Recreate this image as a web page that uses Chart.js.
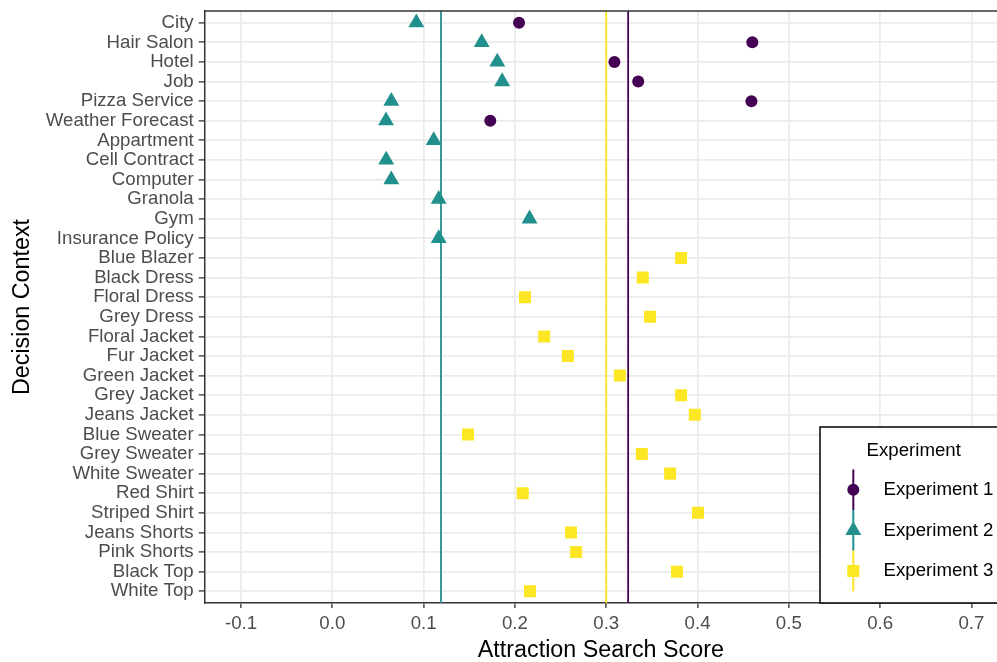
<!DOCTYPE html>
<html>
<head>
<meta charset="utf-8">
<script src="https://cdn.jsdelivr.net/npm/chart.js@4.4.1/dist/chart.umd.min.js"></script>
<style>
  html, body { margin: 0; padding: 0; background: #ffffff; }
  #wrap { width: 997px; height: 662px; }
</style>
</head>
<body>
<div id="wrap"><canvas id="c" width="997" height="662"></canvas></div>
<script>
// ---- Data ----
const categories = [
  "City", "Hair Salon", "Hotel", "Job", "Pizza Service", "Weather Forecast",
  "Appartment", "Cell Contract", "Computer", "Granola", "Gym", "Insurance Policy",
  "Blue Blazer", "Black Dress", "Floral Dress", "Grey Dress", "Floral Jacket", "Fur Jacket",
  "Green Jacket", "Grey Jacket", "Jeans Jacket", "Blue Sweater", "Grey Sweater", "White Sweater",
  "Red Shirt", "Striped Shirt", "Jeans Shorts", "Pink Shorts", "Black Top", "White Top"
];
const experimentNames = ["Experiment 1", "Experiment 2", "Experiment 3"];
const exp1Scores = [0.2045, 0.460, 0.309, 0.335, 0.459, 0.173,
  null, null, null, null, null, null,
  null, null, null, null, null, null, null, null, null, null, null, null, null, null, null, null, null, null];
const exp2Scores = [0.092, 0.1636, 0.1807, 0.186, 0.0646, 0.0588,
  0.111, 0.059, 0.0646, 0.1165, 0.216, 0.1165,
  null, null, null, null, null, null, null, null, null, null, null, null, null, null, null, null, null, null];
const exp3Scores = [null, null, null, null, null, null, null, null, null, null, null, null,
  0.382, 0.340, 0.211, 0.348, 0.232, 0.258,
  0.315, 0.382, 0.397, 0.1486, 0.339, 0.370,
  0.2085, 0.4005, 0.2614, 0.267, 0.3775, 0.2165];
const experimentMeans = [0.324, 0.119, 0.300];
const xTickValues = [-0.1, 0.0, 0.1, 0.2, 0.3, 0.4, 0.5, 0.6, 0.7];

// ---- Styles ----
const colors = ["#440154", "#21908C", "#FDE725"];
const pointStyles = ["circle", "triangle", "rect"];
const pointRadii = [6, 9.2, 8.5];
const FONT = "'Liberation Sans', Arial, Helvetica, sans-serif";

function toPoints(scores) {
  const pts = [];
  scores.forEach((v, i) => { if (v !== null) pts.push({ x: v, y: i }); });
  return pts;
}
const seriesScores = [exp1Scores, exp2Scores, exp3Scores];

const datasets = [];
experimentMeans.forEach((m, k) => {
  datasets.push({
    type: 'line',
    label: experimentNames[k] + ' mean',
    data: [{ x: m, y: -0.6 }, { x: m, y: categories.length - 0.4 }],
    borderColor: colors[k],
    borderWidth: 1.8,
    pointRadius: 0,
    showLine: true,
    fill: false,
    order: 0
  });
});
seriesScores.forEach((s, k) => {
  datasets.push({
    type: 'scatter',
    label: experimentNames[k],
    data: toPoints(s),
    backgroundColor: colors[k],
    borderColor: colors[k],
    borderWidth: 0,
    pointStyle: pointStyles[k],
    pointRadius: pointRadii[k],
    pointHoverRadius: pointRadii[k],
    order: 1
  });
});

function drawShape(ctx, style, x, y, r) {
  ctx.beginPath();
  if (style === 'circle') {
    ctx.arc(x, y, r, 0, Math.PI * 2);
  } else if (style === 'triangle') {
    let rad = 0;
    ctx.moveTo(x + Math.sin(rad) * r, y - Math.cos(rad) * r);
    rad += 2 * Math.PI / 3;
    ctx.lineTo(x + Math.sin(rad) * r, y - Math.cos(rad) * r);
    rad += 2 * Math.PI / 3;
    ctx.lineTo(x + Math.sin(rad) * r, y - Math.cos(rad) * r);
    ctx.closePath();
  } else {
    const s = Math.SQRT1_2 * r;
    ctx.rect(x - s, y - s, 2 * s, 2 * s);
  }
  ctx.fill();
}

const frameAndLegend = {
  id: 'frameAndLegend',
  afterDraw(chart) {
    const ctx = chart.ctx;
    const a = chart.chartArea;
    ctx.save();
    // top panel border
    ctx.strokeStyle = '#333333';
    ctx.lineWidth = 1.5;
    ctx.beginPath();
    ctx.moveTo(a.left, a.top);
    ctx.lineTo(a.right, a.top);
    ctx.stroke();

    // legend box
    const x0 = 820, y0 = 427, x1 = chart.width + 2, y1 = 603;
    ctx.fillStyle = '#ffffff';
    ctx.fillRect(x0, y0, x1 - x0, y1 - y0);
    ctx.strokeStyle = '#000000';
    ctx.lineWidth = 1.5;
    ctx.strokeRect(x0, y0, x1 - x0, y1 - y0);

    ctx.fillStyle = '#000000';
    ctx.font = '18.67px ' + FONT;
    ctx.textBaseline = 'middle';
    ctx.textAlign = 'left';
    ctx.fillText('Experiment', 866.5, 451);

    const keyX = 853.3;
    const keyTop = 469.5, keyH = 40.6;
    experimentNames.forEach((name, k) => {
      const cy = keyTop + keyH * (k + 0.5);
      ctx.strokeStyle = colors[k];
      ctx.lineWidth = 2;
      ctx.beginPath();
      ctx.moveTo(keyX, keyTop + keyH * k);
      ctx.lineTo(keyX, keyTop + keyH * (k + 1));
      ctx.stroke();
      ctx.fillStyle = colors[k];
      drawShape(ctx, pointStyles[k], keyX, cy, pointRadii[k]);
      ctx.fillStyle = '#000000';
      ctx.fillText(name, 883.5, cy);
    });
    ctx.restore();
  }
};

const chart = new Chart(document.getElementById('c'), {
  type: 'scatter',
  data: { datasets },
  options: {
    responsive: false,
    animation: false,
    devicePixelRatio: 1,
    layout: { autoPadding: false, padding: { top: 11, right: 0, left: 0, bottom: 0 } },
    plugins: {
      legend: { display: false },
      tooltip: { enabled: false }
    },
    scales: {
      x: {
        type: 'linear',
        position: 'bottom',
        min: -0.1398,
        max: 0.728,
        afterBuildTicks(scale) { scale.ticks = xTickValues.map(v => ({ value: v })); },
        afterFit(scale) { scale.height = 59; scale.paddingLeft = 0; scale.paddingRight = 0; },
        ticks: {
          callback: (v) => Number(v).toFixed(1),
          color: '#4D4D4D',
          font: { family: FONT, size: 18.67 },
          padding: 5,
          maxRotation: 0,
          autoSkip: false
        },
        grid: { color: '#EBEBEB', lineWidth: 1.8, tickLength: 5, tickColor: '#333333', tickWidth: 1.3 },
        border: { color: '#333333', width: 1.5 },
        title: {
          display: true,
          text: 'Attraction Search Score',
          color: '#000000',
          font: { family: FONT, size: 23.3, lineHeight: 1 },
          padding: { top: 0, bottom: 0 }
        }
      },
      y: {
        type: 'linear',
        position: 'left',
        reverse: true,
        min: -0.6,
        max: categories.length - 0.4,
        afterBuildTicks(scale) { scale.ticks = categories.map((c, i) => ({ value: i })); },
        afterFit(scale) { scale.width = 204.7; scale.paddingTop = 0; scale.paddingBottom = 0; },
        ticks: {
          callback: (v) => categories[v],
          color: '#4D4D4D',
          font: { family: FONT, size: 18.67 },
          padding: 5,
          autoSkip: false
        },
        grid: { color: '#EBEBEB', lineWidth: 1.8, tickLength: 6, tickColor: '#333333', tickWidth: 1.3 },
        border: { color: '#333333', width: 1.5 },
        title: {
          display: true,
          text: 'Decision Context',
          color: '#000000',
          font: { family: FONT, size: 23.3, lineHeight: 1 },
          padding: { top: 10.8, bottom: 0 }
        }
      }
    }
  },
  plugins: [frameAndLegend]
});
</script>
</body>
</html>
